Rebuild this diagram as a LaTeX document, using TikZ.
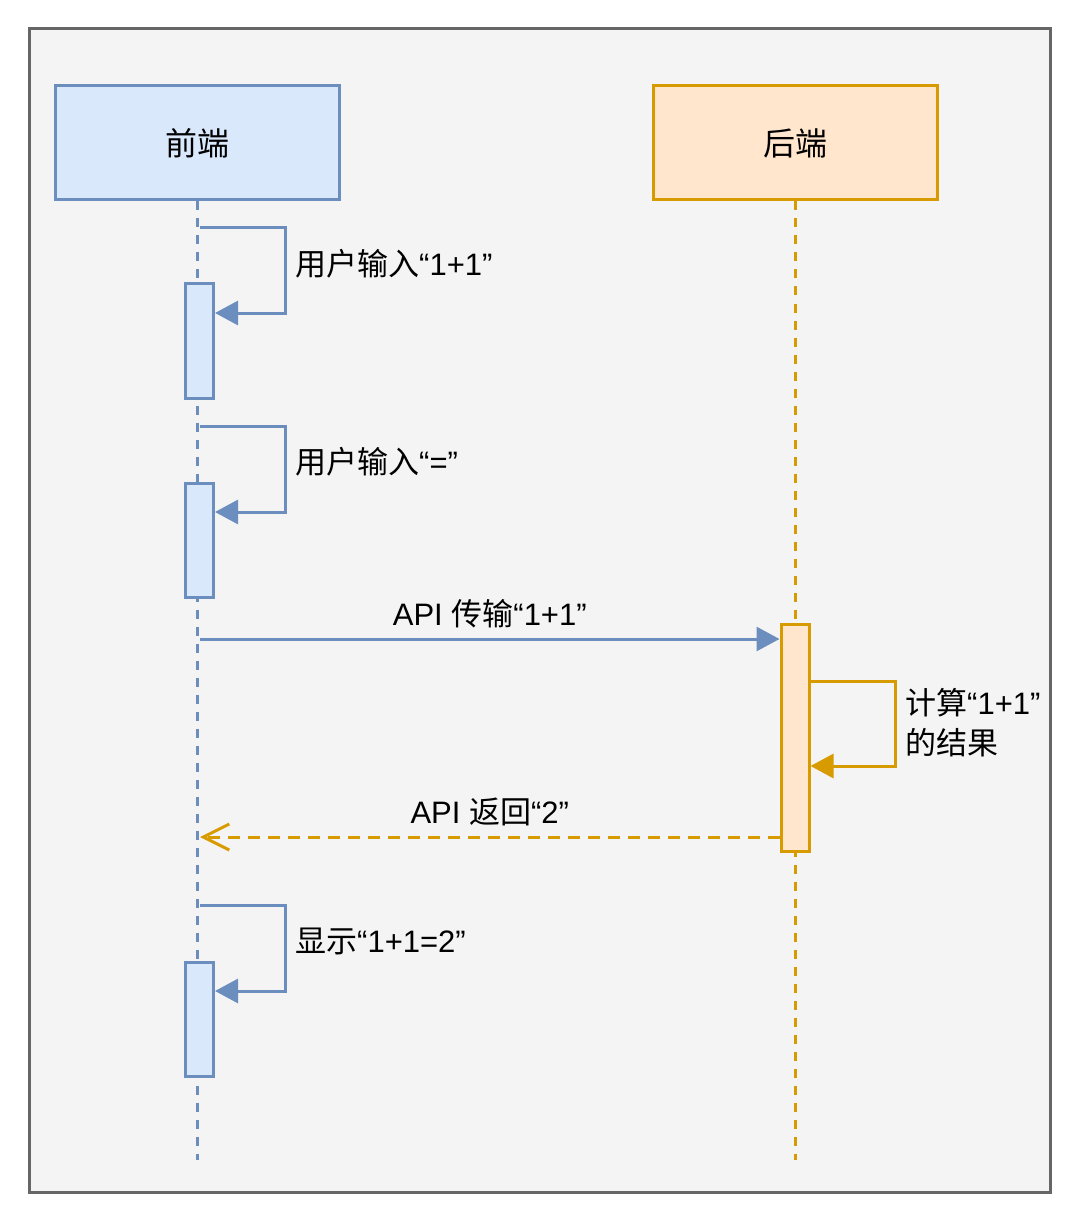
\documentclass[tikz,border=0pt]{standalone}
\usepackage{fontspec}
\setmainfont{Liberation Sans}
\newfontfamily\cjk{Noto Sans CJK SC}
\usetikzlibrary{arrows.meta}
\newcommand{\zh}[1]{{\cjk #1}}
\definecolor{feline}{HTML}{6C8EBF}
\definecolor{fefill}{HTML}{DAE8FC}
\definecolor{beline}{HTML}{D79B00}
\definecolor{befill}{HTML}{FFE6CC}
\definecolor{paper}{HTML}{F4F4F4}
\definecolor{frameline}{HTML}{666666}

\begin{document}
\begin{tikzpicture}[x=1pt, y=-1pt,
    every node/.append style={font=\fontsize{31}{40}\selectfont, text=black},
    header/.style={draw, line width=3pt, minimum width=284pt, minimum height=114pt,
      font=\fontsize{32}{40}\selectfont},
    act/.style={draw, line width=3pt, minimum width=28pt, inner sep=0pt},
    lifeline/.style={line width=3pt, dash pattern=on 9pt off 8pt},
    msg/.style={line width=3pt, -{Triangle[length=23pt, width=24pt]}},
    ret/.style={line width=3pt, dash pattern=on 12pt off 8pt,
      -{Straight Barb[length=26pt, width=26pt, line width=3pt]}},
    lbl/.style={anchor=west, inner sep=0pt}]
    \useasboundingbox (0,0) rectangle (1080,1222);
    \fill[white] (0,0) rectangle (1080,1222);
    \draw[line width=3pt, frameline, fill=paper] (29,29) rectangle (1050,1192);

    \node[header, draw=feline, fill=fefill] (fe) at (197,143) {\zh{前端}};
    \node[header, draw=beline, fill=befill] (be) at (795,143) {\zh{后端}};
    \coordinate (fe-end) at (197,1160);
    \coordinate (be-end) at (795,1160);
    \draw[lifeline, feline] (fe.south) -- (fe-end);
    \draw[lifeline, beline] (be.south) -- (be-end);

    \node[act, draw=feline, fill=fefill, minimum height=114pt] (a1) at (199.5,341) {};
    \node[act, draw=feline, fill=fefill, minimum height=114pt] (a2) at (199.5,540) {};
    \node[act, draw=feline, fill=fefill, minimum height=114pt] (a3) at (199.5,1019) {};
    \node[act, draw=beline, fill=befill, minimum height=227pt] (b1) at (795,738) {};

    \coordinate (s1) at (200,228);
    \coordinate (s2) at (200,426);
    \coordinate (s3) at (200,905);
    \coordinate (s4) at (b1.east |- 0,681);
    \draw[msg, feline] (s1) -- ++(85,0) |- (a1.east |- 0,313);
    \draw[msg, feline] (s2) -- ++(85,0) |- (a2.east |- 0,512);
    \draw[msg, feline] (s3) -- ++(85,0) |- (a3.east |- 0,991);
    \draw[msg, beline] (s4) -- ++(85,0) |- (b1.east |- 0,766);
    \node[lbl] (l1) at (295,264) {\zh{用户输入}“1+1”};
    \node[lbl] (l2) at (295,462) {\zh{用户输入}“=”};
    \node[lbl] (l3) at (295,941) {\zh{显示}“1+1=2”};
    \node[lbl, align=left] (l4) at (905,723) {\zh{计算}“1+1”\\\zh{的结果}};

    \coordinate (c1) at (200,639);
    \coordinate (c2) at (200,837);
    \draw[msg, feline] (c1) -- (c1 -| b1.west)
      node[midway, above=6pt] (l5) {API \zh{传输}“1+1”};
    \draw[ret, beline] (c2 -| b1.west) -- (c2)
      node[midway, above=6pt] (l6) {API \zh{返回}“2”};
  \end{tikzpicture}
\end{document}
